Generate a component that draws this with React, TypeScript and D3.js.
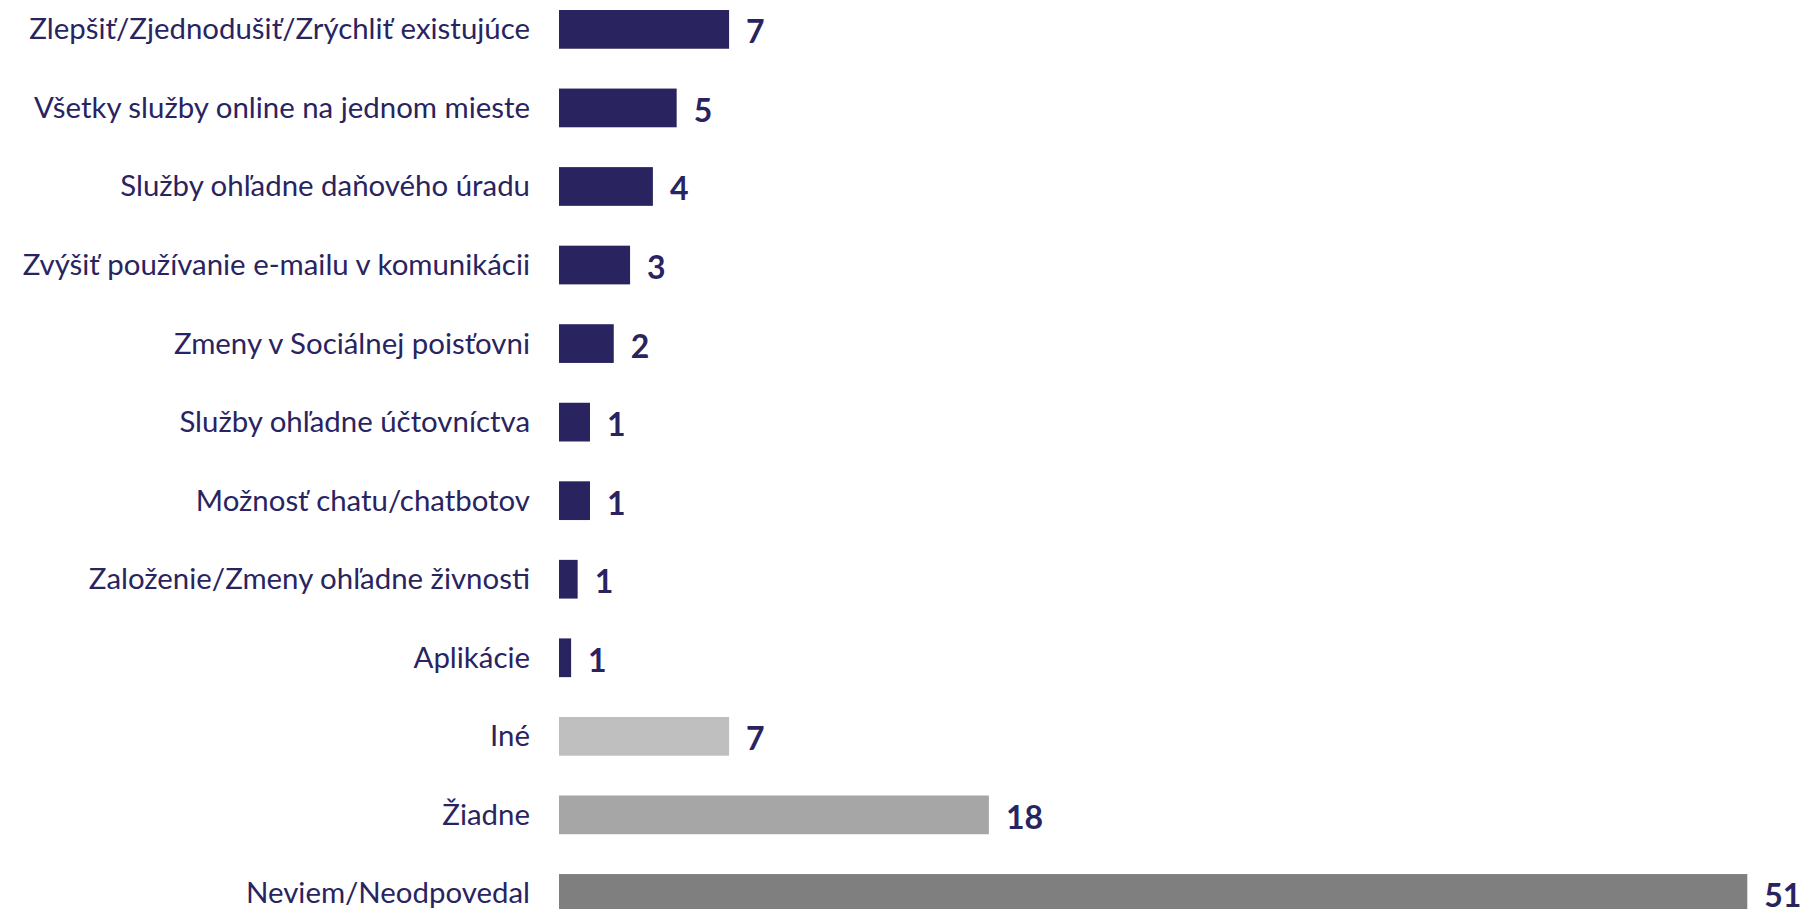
import React from "react";
import * as d3 from "d3";

const categories: string[] = [
  "Zlepšiť/Zjednodušiť/Zrýchliť existujúce",
  "Všetky služby online na jednom mieste",
  "Služby ohľadne daňového úradu",
  "Zvýšiť používanie e-mailu v komunikácii",
  "Zmeny v Sociálnej poisťovni",
  "Služby ohľadne účtovníctva",
  "Možnosť chatu/chatbotov",
  "Založenie/Zmeny ohľadne živnosti",
  "Aplikácie",
  "Iné",
  "Žiadne",
  "Neviem/Neodpovedal",
];

// estimated underlying values (bar lengths)
const values: number[] = [7.3, 5.05, 4.03, 3.05, 2.35, 1.33, 1.33, 0.8, 0.52, 7.3, 18.45, 51];
// displayed (rounded) labels
const valueLabels: string[] = ["7", "5", "4", "3", "2", "1", "1", "1", "1", "7", "18", "51"];
const barColors: string[] = [
  "#29245F", "#29245F", "#29245F", "#29245F", "#29245F", "#29245F",
  "#29245F", "#29245F", "#29245F", "#BFBFBF", "#A6A6A6", "#7F7F7F",
];

const W = 1806;
const H = 909;
const TEXT = "#29245F";
const FONT = "Lato, 'Open Sans', sans-serif";

export default function App() {
  const x = d3.scaleLinear().domain([0, 51]).range([559, 1747.3]);
  const step = 78.55;
  const y = d3
    .scaleBand<string>()
    .domain(categories)
    .range([-9.9, -9.9 + step * categories.length])
    .paddingInner(0.507)
    .paddingOuter(0.2535);
  const bw = y.bandwidth();

  return (
    <svg
      width={W}
      height={H}
      style={{ position: "absolute", left: 0, top: 0, background: "#fff" }}
    >
      {categories.map((c, i) => {
        const y0 = y(c) as number;
        const cy = y0 + bw / 2;
        const xe = x(values[i]);
        return (
          <g key={c}>
            <rect x={x(0)} y={y0} width={xe - x(0)} height={bw} fill={barColors[i]} />
            <text
              x={530}
              y={cy + 10}
              textAnchor="end"
              fontFamily={FONT}
              fontSize={29.4}
              fill={TEXT}
            >
              {c}
            </text>
            <text
              x={xe + 17}
              y={cy + 14}
              fontFamily={FONT}
              fontSize={32}
              fontWeight="bold"
              fill={TEXT}
            >
              {valueLabels[i]}
            </text>
          </g>
        );
      })}
    </svg>
  );
}
